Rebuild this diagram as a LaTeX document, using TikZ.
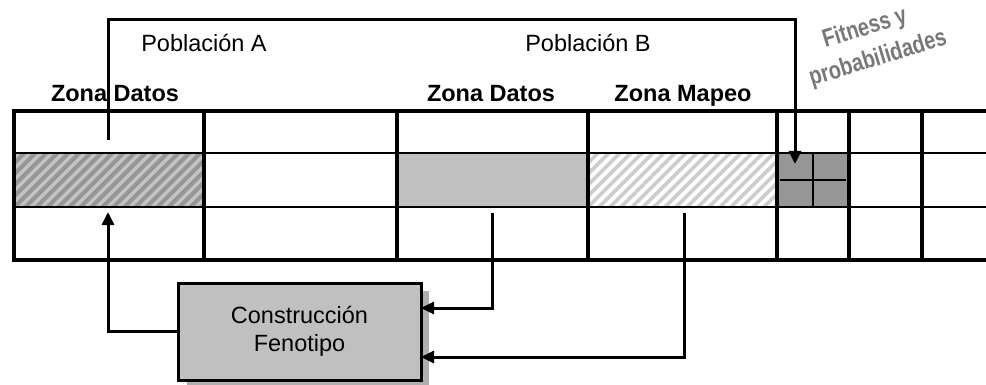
\documentclass[tikz,border=0pt]{standalone}
\usepackage{fontspec}
\setmainfont{Liberation Sans}
\usepackage{graphicx}
\usetikzlibrary{arrows.meta}
\definecolor{darkfill}{RGB}{150,150,150}
\definecolor{lightfill}{RGB}{192,192,192}
\definecolor{stripeA}{RGB}{196,196,196}
\definecolor{stripeB}{RGB}{205,205,205}
\definecolor{shadowc}{RGB}{175,175,175}
\definecolor{wordart}{RGB}{120,120,120}
\begin{document}
\begin{tikzpicture}[x=1pt,y=-1pt,
  thickline/.style={line width=4.2pt},
  thinline/.style={line width=1.8pt},
  conn/.style={line width=3pt},
  tip/.style={-{Triangle[length=13pt,width=12pt]}},
  lbl/.style={font=\fontsize{23.5}{27}\selectfont, anchor=base},
  zlbl/.style={font=\fontsize{23.5}{27}\selectfont\bfseries, anchor=base},
  procbox/.style={draw, line width=3pt, fill=lightfill, minimum width=243pt, minimum height=97pt, align=center, font=\fontsize{23.5}{28}\selectfont, inner sep=0pt},
  wa/.style={rotate=17, text=wordart, inner sep=0pt, font=\fontsize{25}{25}\selectfont\bfseries}
]
\useasboundingbox (0,0) rectangle (986,385);
\fill[white] (0,0) rectangle (986,385);

% fills
\fill[darkfill] (14,153) rectangle (204,207);
\begin{scope}
  \clip (14,153) rectangle (204,207);
  \foreach \i in {-60,-49,...,210} \draw[line width=3.2pt, stripeA] (\i,210) -- ++(64,-64);
\end{scope}
\fill[lightfill] (397,153) rectangle (588,207);
\begin{scope}
  \clip (588,153) rectangle (777,207);
  \foreach \i in {530,541,...,790} \draw[line width=3.6pt, stripeB] (\i,210) -- ++(64,-64);
\end{scope}
\fill[darkfill] (777,153) rectangle (849,207);

% table lines
\draw[thinline] (14,153) -- (986,153);
\draw[thinline] (14,207) -- (986,207);
\draw[line width=2.5pt] (780,180) -- (846,180);
\draw[line width=2pt] (813,153) -- (813,207);
\foreach \x in {204,397,588,777,849,922} \draw[thickline] (\x,111) -- (\x,260);
\draw[thickline] (14,111) -- (14,260);
\draw[thickline] (11.9,111) -- (986,111);
\draw[thickline] (11.9,260) -- (986,260);

% labels
\node[lbl] (popA) at (204,52) {Población A};
\node[lbl] (popB) at (588,52) {Población B};
\node[zlbl] (zdA) at (115,102) {Zona Datos};
\node[zlbl] (zdB) at (491,102) {Zona Datos};
\node[zlbl] (zmB) at (683,102) {Zona Mapeo};

% WordArt label
\node[wa] (fit1) at (865,29) {\scalebox{0.8}[1]{Fitness y}};
\node[wa] (fit2) at (878,59) {\scalebox{0.8}[1]{probabilidades}};

% box with shadow
\fill[shadowc] (187,291) rectangle (429,390);
\node[procbox] (cf) at (299.5,331.5) {Construcción\\Fenotipo};

% connector coordinates
\coordinate (topS) at (108,140);
\coordinate (topC1) at (108,20);
\coordinate (topC2) at (795,20);
\coordinate (fitT) at (795,164);
\coordinate (aT) at (108,212);
\coordinate (dBs) at (492,213);
\coordinate (mBs) at (684,213);
\coordinate (in1) at (421,308);
\coordinate (in2) at (421,357);

\draw[conn, tip] (topS) -- (topC1) -- (topC2) -- (fitT);
\draw[conn, tip] (cf.west) -| (aT);
\draw[conn, tip] (dBs) |- (in1);
\draw[conn, tip] (mBs) |- (in2);
\end{tikzpicture}
\end{document}
